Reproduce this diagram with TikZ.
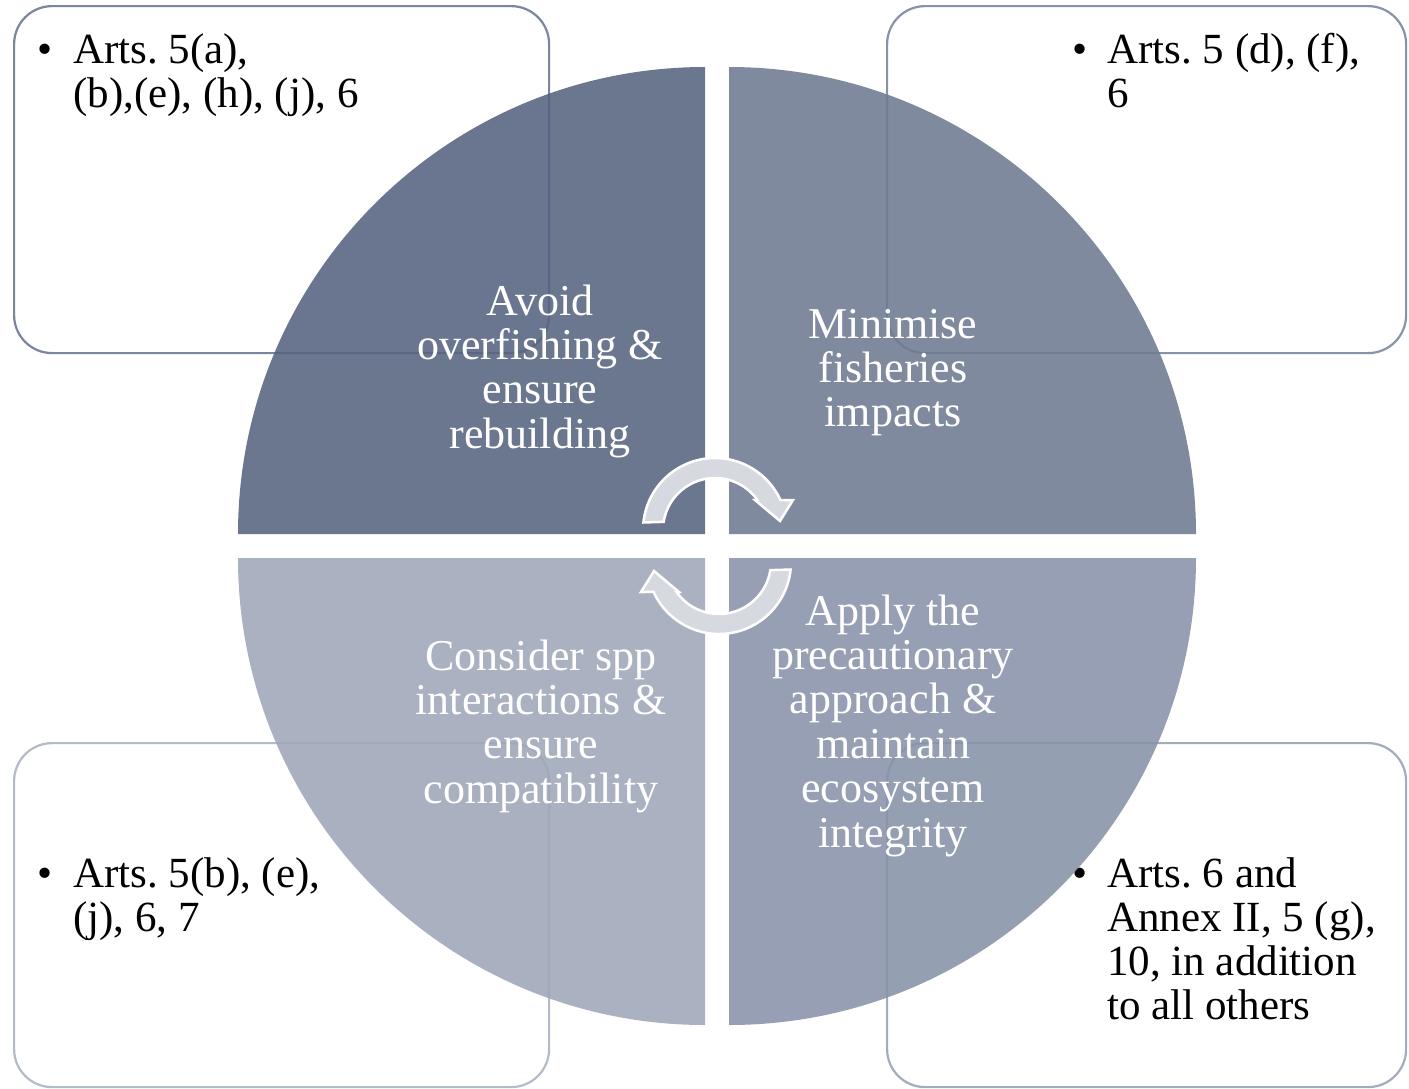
\documentclass[tikz,border=0pt]{standalone}
\usepackage{fontspec}
\setmainfont{Liberation Serif}
\definecolor{qTL}{HTML}{566380}
\definecolor{qTR}{HTML}{6E7A91}
\definecolor{qBL}{HTML}{9EA6B7}
\definecolor{qBR}{HTML}{8792A8}
\definecolor{bTL}{HTML}{7A869C}
\definecolor{bTR}{HTML}{8793A8}
\definecolor{bBL}{HTML}{B4BBC8}
\definecolor{bBR}{HTML}{A3ACBD}
\definecolor{arrowfill}{HTML}{D6D9DF}
\newcommand\myquadfont{\fontsize{44}{44.4}\selectfont}
\newcommand\myboxfont{\fontsize{43}{44}\selectfont}
\frenchspacing
\tikzset{
  refbox/.style={draw, line width=2.2pt, rounded corners=38pt, fill=white, inner sep=0pt, anchor=north west},
  btext/.style={anchor=base west, inner sep=0pt, text=black},
  bulletmark/.style={anchor=base west, inner sep=0pt, text=black},
  qtext/.style={anchor=base, inner sep=0pt, text=white},
  quad/.style={fill opacity=0.88, draw=none},
  arrowshape/.style={fill=arrowfill, draw=white, line width=2.5pt, line join=miter},
  cyclearrow/.pic={
    \path[arrowshape] (186:72) arc[start angle=186, end angle=335.4, radius=72]
      -- (78,-30) -- (65,-9) -- (40,-30) -- (324.5:52)
      arc[start angle=324.5, end angle=189, radius=52] -- cycle;
  }
}
\begin{document}
\frenchspacing
\begin{tikzpicture}[x=1pt, y=1pt, yscale=-1]
\useasboundingbox (0,0) rectangle (1409,1088);

% boxes
\node[refbox, draw=bTL, minimum width=535pt, minimum height=347pt] (boxTL) at (13,5) {};
\node[refbox, draw=bTR, minimum width=519pt, minimum height=347pt] (boxTR) at (886,5) {};
\node[refbox, draw=bBL, minimum width=535pt, minimum height=344pt] (boxBL) at (13,742) {};
\node[refbox, draw=bBR, minimum width=519pt, minimum height=344pt] (boxBR) at (886,742) {};

% box texts
\node[bulletmark] (uTL) at (37,63) {\myboxfont •};
\node[btext] (xTL) at (73,63) {\parbox[t]{460pt}{\raggedright\myboxfont Arts. 5(a),\\(b),(e), (h), (j), 6}};
\node[bulletmark] (uTR) at (1072,63) {\myboxfont •};
\node[btext] (xTR) at (1107,63) {\parbox[t]{300pt}{\raggedright\myboxfont Arts. 5 (d), (f),\\6}};
\node[bulletmark] (uBL) at (37,887) {\myboxfont •};
\node[btext] (xBL) at (73,887) {\parbox[t]{460pt}{\raggedright\myboxfont Arts. 5(b), (e),\\(j), 6, 7}};
\node[bulletmark] (uBR) at (1072,887) {\myboxfont •};
\node[btext] (xBR) at (1107,887) {\parbox[t]{300pt}{\raggedright\myboxfont Arts. 6 and\\Annex II, 5 (g),\\10, in addition\\to all others}};

% pie quadrants
\fill[quad, qTL] (705,534) -- ++(-467,0) arc[start angle=180, end angle=270, radius=467] -- cycle;
\fill[quad, qTR] (729,534) -- ++(0,-467) arc[start angle=270, end angle=360, radius=467] -- cycle;
\fill[quad, qBR] (729,558) -- ++(467,0) arc[start angle=0, end angle=90, radius=467] -- cycle;
\fill[quad, qBL] (705,558) -- ++(0,467) arc[start angle=90, end angle=180, radius=467] -- cycle;

% quadrant texts
\node[qtext] (tTL) at (540,315) {\parbox[t]{400pt}{\centering\myquadfont Avoid\\overfishing \&\\ensure\\rebuilding}};
\node[qtext] (tTR) at (893,338) {\parbox[t]{400pt}{\centering\myquadfont Minimise\\fisheries\\impacts}};
\node[qtext] (tBL) at (541,670) {\parbox[t]{400pt}{\centering\myquadfont Consider spp\\interactions \&\\ensure\\compatibility}};
\node[qtext] (tBR) at (893,625) {\parbox[t]{400pt}{\centering\myquadfont Apply the\\precautionary\\approach \&\\maintain\\ecosystem\\integrity}};

% cycle arrows
\pic[transform shape] (arrowUp) at (715,530) {cyclearrow};
\pic[transform shape, rotate=180] (arrowDown) at (719,562) {cyclearrow};
\end{tikzpicture}
\end{document}
